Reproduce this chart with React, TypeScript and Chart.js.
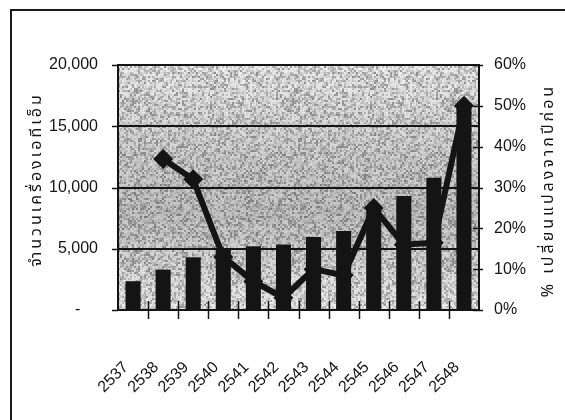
import { useEffect, useRef } from 'react';
import { Chart, registerables } from 'chart.js';

Chart.register(...registerables);

// Buddhist-era years on the category axis
const years = ['2537', '2538', '2539', '2540', '2541', '2542', '2543', '2544', '2545', '2546', '2547', '2548'];
// Number of ATM machines (left axis)
const atmCount = [2350, 3300, 4300, 4900, 5200, 5350, 5950, 6450, 8100, 9300, 10800, 16500];
// Percent change from the previous year (right axis)
const pctChange = [null, 37, 32, 13, 7, 3, 10, 8.5, 25, 16, 16.5, 50];
const countTicks = [0, 5000, 10000, 15000, 20000];
const pctTicks = [0, 10, 20, 30, 40, 50, 60];
const countTitle = 'จำนวนเครื่องเอทีเอ็ม';
const pctTitle = '% เปลี่ยนแปลงจากปีก่อน';

const INK = '#141414';
const TICK_FONT = '"Liberation Sans Narrow", "Arial Narrow", "Liberation Sans", sans-serif';
const THAI_FONT = '"Noto Sans Thai", "Noto Sans", "DejaVu Sans", sans-serif';

// Deterministic speckled gray fill for the plot area
function makeSpeckle(): CanvasPattern | null {
  const size = 160;
  const c = document.createElement('canvas');
  c.width = size;
  c.height = size;
  const g = c.getContext('2d');
  if (!g) return null;
  const img = g.createImageData(size, size);
  const h = (x: number, y: number) => {
    const s = Math.sin(x * 12.9898 + y * 78.233) * 43758.5453;
    return s - Math.floor(s);
  };
  for (let y = 0; y < size; y++) {
    for (let x = 0; x < size; x++) {
      const fine = h(x, y);
      const coarse = h(Math.floor(x / 2) + 17, Math.floor(y / 2) + 31);
      let v = 236 - 90 * Math.pow(coarse, 2) + 30 * (fine - 0.5);
      v = Math.max(110, Math.min(248, v));
      const i = (y * size + x) * 4;
      img.data[i] = v;
      img.data[i + 1] = v;
      img.data[i + 2] = v;
      img.data[i + 3] = 255;
    }
  }
  g.putImageData(img, 0, 0);
  return g.createPattern(c, 'repeat');
}

export default function App() {
  const canvasRef = useRef<HTMLCanvasElement | null>(null);

  useEffect(() => {
    const canvas = canvasRef.current;
    if (!canvas) return;
    const speckle = makeSpeckle();

    const plotFill = {
      id: 'plotFill',
      beforeDraw(chart: any) {
        const { ctx, chartArea: a } = chart;
        const w = a.right - a.left;
        const hgt = a.bottom - a.top;
        ctx.save();
        ctx.fillStyle = speckle || '#c8c8c8';
        ctx.fillRect(a.left, a.top, w, hgt);
        // darker band through the middle of the plot
        const shade = ctx.createLinearGradient(0, a.top, 0, a.bottom);
        shade.addColorStop(0, 'rgba(0,0,0,0)');
        shade.addColorStop(0.35, 'rgba(0,0,0,0.1)');
        shade.addColorStop(0.62, 'rgba(0,0,0,0.17)');
        shade.addColorStop(0.85, 'rgba(0,0,0,0.06)');
        shade.addColorStop(1, 'rgba(0,0,0,0)');
        ctx.fillStyle = shade;
        ctx.fillRect(a.left, a.top, w, hgt);
        ctx.restore();
      },
    };

    const axisMarks = {
      id: 'axisMarks',
      afterDraw(chart: any) {
        const { ctx, chartArea: a, scales } = chart;
        ctx.save();
        ctx.strokeStyle = INK;
        ctx.lineWidth = 1.5;
        ctx.beginPath();
        const xs = scales.x;
        for (let i = 1; i < years.length; i++) {
          const px = Math.round((xs.getPixelForValue(i - 1) + xs.getPixelForValue(i)) / 2) + 0.5;
          ctx.moveTo(px, a.bottom - 9);
          ctx.lineTo(px, a.bottom + 9);
        }
        for (const v of countTicks) {
          const py = Math.round(scales.y.getPixelForValue(v)) + 0.5;
          ctx.moveTo(a.left - 6, py);
          ctx.lineTo(a.left, py);
        }
        for (const v of pctTicks) {
          const py = Math.round(scales.y1.getPixelForValue(v)) + 0.5;
          ctx.moveTo(a.right - 6, py);
          ctx.lineTo(a.right + 4, py);
        }
        ctx.stroke();

        // rotated axis titles, both reading bottom to top
        ctx.fillStyle = INK;
        ctx.font = '16px ' + THAI_FONT;
        ctx.textAlign = 'center';
        ctx.textBaseline = 'middle';
        (ctx as any).letterSpacing = '3px';
        const midY = (a.top + a.bottom) / 2;
        ctx.save();
        ctx.translate(38, midY - 8);
        ctx.rotate(-Math.PI / 2);
        ctx.fillText(countTitle, 0, 0);
        ctx.restore();
        ctx.save();
        ctx.translate(550, midY + 3);
        ctx.rotate(-Math.PI / 2);
        ctx.fillText(pctTitle, 0, 0);
        ctx.restore();
        ctx.restore();
      },
    };

    const chart = new Chart(canvas, {
      data: {
        labels: years,
        datasets: [
          {
            type: 'line',
            data: pctChange,
            yAxisID: 'y1',
            borderColor: INK,
            backgroundColor: INK,
            borderWidth: 6,
            pointStyle: 'rectRot',
            pointRadius: 10,
            pointBorderWidth: 0,
            pointBackgroundColor: INK,
            order: 0,
          },
          {
            type: 'bar',
            data: atmCount,
            yAxisID: 'y',
            backgroundColor: INK,
            barPercentage: 0.5,
            categoryPercentage: 1,
            order: 1,
          },
        ],
      } as any,
      options: {
        responsive: false,
        animation: false,
        events: [],
        layout: { padding: { top: 65, left: 0, right: 0, bottom: 0 } },
        plugins: { legend: { display: false }, tooltip: { enabled: false } },
        scales: {
          x: {
            type: 'category',
            offset: true,
            grid: { display: false, drawTicks: false },
            border: { display: true, color: INK, width: 2 },
            ticks: {
              color: INK,
              font: { family: TICK_FONT, size: 16 },
              minRotation: 45,
              maxRotation: 45,
              padding: 48,
              labelOffset: -7,
              autoSkip: false,
            },
            afterFit(s: any) {
              s.height = 110;
            },
          },
          y: {
            position: 'left',
            min: 0,
            max: 20000,
            afterBuildTicks(s: any) {
              s.ticks = countTicks.map((v) => ({ value: v }));
            },
            grid: { color: INK, lineWidth: 2, drawTicks: false },
            border: { display: true, color: INK, width: 2 },
            ticks: {
              color: INK,
              padding: 20,
              font: { family: TICK_FONT, size: 16 },
              callback: (v: any) => (Number(v) === 0 ? '-    ' : Number(v).toLocaleString('en-US')),
            },
            afterFit(s: any) {
              s.width = 118;
            },
          },
          y1: {
            position: 'right',
            min: 0,
            max: 60,
            afterBuildTicks(s: any) {
              s.ticks = pctTicks.map((v) => ({ value: v }));
            },
            grid: { display: false, drawTicks: false },
            border: { display: true, color: INK, width: 2 },
            ticks: {
              color: INK,
              padding: 15,
              font: { family: TICK_FONT, size: 16 },
              callback: (v: any) => v + '%',
            },
            afterFit(s: any) {
              s.width = 86;
            },
          },
        },
      } as any,
      plugins: [plotFill, axisMarks],
    });

    return () => chart.destroy();
  }, []);

  return (
    <div style={{ position: 'absolute', left: 0, top: 0, width: 565, height: 420, background: '#fff', overflow: 'hidden' }}>
      <div
        style={{
          position: 'absolute',
          left: 10,
          top: 9,
          width: 600,
          height: 440,
          borderLeft: '2px solid #1a1a1a',
          borderTop: '2px solid #1a1a1a',
        }}
      />
      <canvas ref={canvasRef} width={565} height={420} style={{ position: 'absolute', left: 0, top: 0 }} />
    </div>
  );
}
